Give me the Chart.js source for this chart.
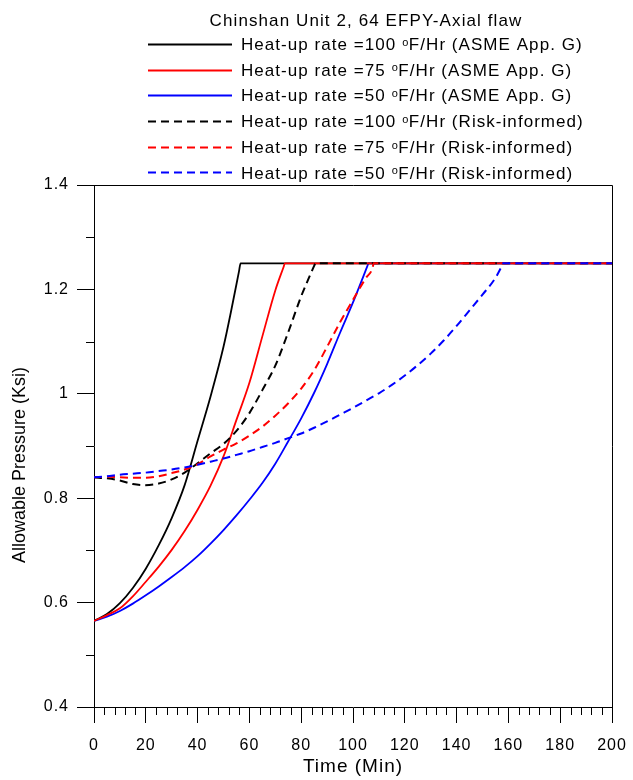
<!DOCTYPE html>
<html>
<head>
<meta charset="utf-8">
<script src="https://cdn.jsdelivr.net/npm/chart.js@4.4.0/dist/chart.umd.min.js"></script>
<style>
html,body{margin:0;padding:0;background:#ffffff;}
canvas{display:block;}
</style>
</head>
<body>
<canvas id="chart" width="633" height="780"></canvas>
<script>
// ---------------- data ----------------
const chartTitle = 'Chinshan Unit 2, 64 EFPY-Axial flaw';
const xAxisTitle = 'Time (Min)';
const yAxisTitle = 'Allowable Pressure (Ksi)';
const heatupRates = ['100', '75', '50', '100', '75', '50'];
const methods = ['ASME App. G', 'ASME App. G', 'ASME App. G', 'Risk-informed', 'Risk-informed', 'Risk-informed'];

const tASME100 = [0, 5, 10, 15, 20, 25, 30, 35, 40, 45, 50, 53, 56.0, 56.6, 200];
const pASME100 = [0.565, 0.578, 0.599, 0.628, 0.665, 0.710, 0.762, 0.825, 0.910, 0.995, 1.090, 1.160, 1.235, 1.250, 1.250];

const tASME75 = [0, 5, 10, 15, 20, 25, 30, 35, 40, 45, 50, 55, 60, 65, 70, 73.2, 73.7, 200];
const pASME75 = [0.565, 0.576, 0.589, 0.612, 0.640, 0.669, 0.701, 0.737, 0.778, 0.824, 0.880, 0.950, 1.021, 1.110, 1.198, 1.243, 1.250, 1.250];

const tASME50 = [0, 5, 10, 15, 20, 25, 30, 35, 40, 45, 50, 55, 60, 65, 70, 75, 80, 85, 90, 95, 100, 104, 105.5, 106, 200];
const pASME50 = [0.565, 0.573, 0.584, 0.598, 0.614, 0.631, 0.649, 0.668, 0.689, 0.713, 0.739, 0.767, 0.797, 0.829, 0.866, 0.909, 0.953, 1.002, 1.057, 1.117, 1.175, 1.225, 1.244, 1.250, 1.250];

const tRisk100 = [0, 5, 10, 15, 19, 25, 30, 35, 40, 45, 50, 55, 60, 65, 70, 75, 80, 83.5, 85.0, 85.5, 200];
const pRisk100 = [0.840, 0.838, 0.834, 0.827, 0.825, 0.828, 0.836, 0.849, 0.867, 0.886, 0.904, 0.929, 0.963, 1.007, 1.054, 1.118, 1.187, 1.228, 1.245, 1.250, 1.250];

const tRisk75 = [0, 5, 10, 15, 20, 25, 30, 35, 40, 45, 50, 55, 60, 65, 70, 75, 80, 85, 90, 95, 100, 105, 107.5, 108, 200];
const pRisk75 = [0.840, 0.841, 0.840, 0.839, 0.839, 0.842, 0.848, 0.855, 0.865, 0.880, 0.893, 0.905, 0.920, 0.937, 0.958, 0.982, 1.010, 1.045, 1.090, 1.137, 1.180, 1.222, 1.240, 1.250, 1.250];

const tRisk50 = [0, 5, 10, 15, 20, 25, 30, 35, 40, 45, 50, 55, 60, 65, 70, 75, 80, 85, 90, 95, 100, 105, 110, 115, 120, 125, 130, 135, 140, 145, 150, 155, 157.5, 158, 200];
const pRisk50 = [0.840, 0.842, 0.845, 0.847, 0.849, 0.852, 0.855, 0.859, 0.864, 0.870, 0.876, 0.883, 0.890, 0.898, 0.906, 0.915, 0.924, 0.935, 0.947, 0.960, 0.973, 0.987, 1.001, 1.017, 1.035, 1.055, 1.077, 1.102, 1.130, 1.160, 1.190, 1.222, 1.245, 1.250, 1.250];

const xMin = 0, xMax = 200, xStep = 20, xMinorStep = 4;
const yMin = 0.4, yMax = 1.4, yStep = 0.2, yMinorStep = 0.1;

// ---------------- styles ----------------
const FONT = '"Liberation Sans", Arial, Helvetica, sans-serif';
const colors = ['#000000', '#ff0000', '#0000ff', '#000000', '#ff0000', '#0000ff'];
const dashes = [[], [], [], [8, 5], [8, 5], [8, 5]];
const widths = [1.8, 1.8, 1.8, 2, 2, 2];
const drawOrder = [5, 4, 6, 3, 2, 1];

const seriesT = [tASME100, tASME75, tASME50, tRisk100, tRisk75, tRisk50];
const seriesP = [pASME100, pASME75, pASME50, pRisk100, pRisk75, pRisk50];

const datasets = seriesT.map((ts, i) => ({
  label: 'Heat-up rate =' + heatupRates[i] + ' \u00B0F/Hr (' + methods[i] + ')',
  data: ts.map((t, j) => ({ x: t, y: seriesP[i][j] })),
  borderColor: colors[i],
  backgroundColor: colors[i],
  borderDash: dashes[i],
  borderWidth: widths[i],
  pointRadius: 0,
  cubicInterpolationMode: 'monotone',
  fill: false,
  order: drawOrder[i]
}));

const decorPlugin = {
  id: 'decor',
  beforeDraw(chart) {
    chart.ctx.letterSpacing = '1px';
  },
  afterDraw(chart) {
    const ctx = chart.ctx;
    const { left, right, top, bottom } = chart.chartArea;
    const xs = chart.scales.x, ys = chart.scales.y;
    ctx.save();
    ctx.strokeStyle = '#000';
    ctx.lineWidth = 1;
    ctx.setLineDash([]);
    // frame top / right
    ctx.beginPath();
    ctx.moveTo(Math.round(left), Math.round(top) + 0.5);
    ctx.lineTo(Math.round(right) + 0.5, Math.round(top) + 0.5);
    ctx.lineTo(Math.round(right) + 0.5, Math.round(bottom));
    ctx.stroke();
    // minor ticks
    ctx.beginPath();
    for (let t = xMin + xMinorStep; t < xMax; t += xMinorStep) {
      if (t % xStep === 0) continue;
      const px = Math.round(xs.getPixelForValue(t)) + 0.5;
      ctx.moveTo(px, bottom);
      ctx.lineTo(px, bottom + 8);
    }
    for (let k = 1; k < Math.round((yMax - yMin) / yMinorStep); k += 2) {
      const v = yMin + k * yMinorStep;
      const py = Math.round(ys.getPixelForValue(v)) + 0.5;
      ctx.moveTo(left - 8, py);
      ctx.lineTo(left, py);
    }
    ctx.stroke();

    ctx.fillStyle = '#000';
    // title
    ctx.font = '17px ' + FONT;
    ctx.letterSpacing = '1.1px';
    ctx.textAlign = 'center';
    ctx.textBaseline = 'alphabetic';
    ctx.fillText(chartTitle, 366, 26);

    // legend
    const lineX0 = 148, lineX1 = 232, textX = 241;
    const row0 = 43.8, rowStep = 25.7;
    chart.data.datasets.forEach((ds, i) => {
      const cy = row0 + i * rowStep;
      ctx.strokeStyle = ds.borderColor;
      ctx.lineWidth = ds.borderWidth;
      ctx.setLineDash(ds.borderDash);
      ctx.beginPath();
      ctx.moveTo(lineX0, Math.round(cy) + 0.5);
      ctx.lineTo(lineX1, Math.round(cy) + 0.5);
      ctx.stroke();
      ctx.setLineDash([]);
      const base = cy + 6.2;
      ctx.textAlign = 'left';
      ctx.letterSpacing = '1.05px';
      ctx.font = '17px ' + FONT;
      const pre = 'Heat-up rate =' + heatupRates[i] + ' ';
      let x = textX;
      ctx.fillText(pre, x, base);
      x += ctx.measureText(pre).width;
      ctx.font = '11px ' + FONT;
      ctx.letterSpacing = '0.6px';
      ctx.fillText('o', x, base - 4.3);
      x += ctx.measureText('o').width;
      ctx.font = '17px ' + FONT;
      ctx.letterSpacing = '1.05px';
      ctx.fillText('F/Hr (' + methods[i] + ')', x, base);
    });

    // y axis title
    ctx.letterSpacing = '0px';
    ctx.font = '18px ' + FONT;
    ctx.translate(20, 465);
    ctx.rotate(-Math.PI / 2);
    ctx.textAlign = 'center';
    ctx.textBaseline = 'middle';
    ctx.fillText(yAxisTitle, 0, 0);
    ctx.restore();
  }
};

new Chart(document.getElementById('chart'), {
  type: 'line',
  data: { datasets },
  options: {
    responsive: false,
    animation: false,
    events: [],
    layout: { padding: { top: 185, right: 21, left: 0, bottom: 0 } },
    plugins: {
      legend: { display: false },
      title: { display: false },
      tooltip: { enabled: false }
    },
    scales: {
      x: {
        type: 'linear',
        min: xMin, max: xMax,
        ticks: { stepSize: xStep, color: '#000', font: { family: FONT, size: 16 }, padding: 13, maxRotation: 0, autoSkip: false },
        grid: { drawOnChartArea: false, drawTicks: true, tickLength: 16, color: '#000', lineWidth: 1 },
        border: { display: true, color: '#000', width: 1 },
        title: { display: true, text: xAxisTitle, color: '#000', font: { family: FONT, size: 19 }, padding: { top: 0, bottom: 2 } },
        afterFit(scale) { scale.height = 73; scale.paddingLeft = 0; scale.paddingRight = 0; }
      },
      y: {
        type: 'linear',
        min: yMin, max: yMax,
        ticks: { stepSize: yStep, color: '#000', font: { family: FONT, size: 16 }, padding: 8,
          callback: (v) => String(+(+v).toFixed(1)) },
        grid: { drawOnChartArea: false, drawTicks: true, tickLength: 17, color: '#000', lineWidth: 1 },
        border: { display: true, color: '#000', width: 1 },
        afterFit(scale) { scale.width = 94; scale.paddingTop = 0; scale.paddingBottom = 0; }
      }
    }
  },
  plugins: [decorPlugin]
});
</script>
</body>
</html>
